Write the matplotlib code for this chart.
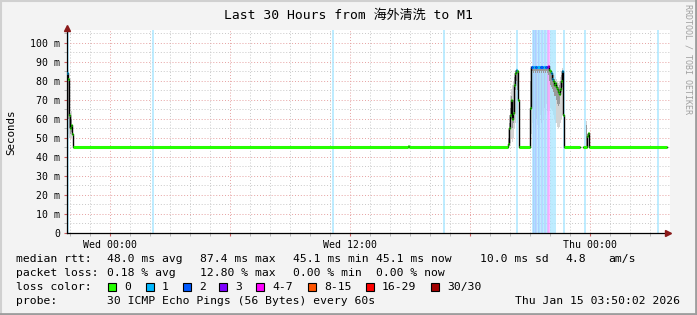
import numpy as np
import pandas as pd
import matplotlib
matplotlib.use("Agg")
import matplotlib.pyplot as plt
import matplotlib.dates as mdates
from matplotlib.lines import Line2D
from matplotlib.patches import Rectangle

nan = np.nan

# median rtt (ms) as steps: each value holds until the next time
med_time = ["13 21:50", "13 21:53", "13 21:56", "13 21:59", "13 22:02", "13 22:05", "13 22:08",
            "14 14:53", "14 14:56",
            "14 19:53", "14 19:56", "14 19:59", "14 20:02", "14 20:05", "14 20:08", "14 20:11",
            "14 20:14", "14 20:17", "14 20:20", "14 20:23", "14 20:26",
            "14 20:59", "14 21:02", "14 21:08", "14 21:14", "14 21:20", "14 21:29", "14 21:38",
            "14 21:44", "14 21:50", "14 21:53",
            "14 21:56", "14 21:59", "14 22:02", "14 22:05", "14 22:08", "14 22:11", "14 22:14",
            "14 22:17", "14 22:20", "14 22:23", "14 22:26", "14 22:29", "14 22:32", "14 22:35",
            "14 22:38", "14 22:41",
            "14 23:29", "14 23:38",
            "14 23:50", "14 23:53", "14 23:56",
            "15 03:50"]
med_val = [84, 81, 62, 55, 57, 52, 45.1,
           46, 45.1,
           47, 55, 62, 70, 60, 63, 78, 84, 86, 85, 70, 45.1,
           66, 87.2, 87.2, 87.3, 87.2, 87.3, 87.2, 87.3, 87.4, 87.6,
           86, 85, 84, 81, 80, 78, 79, 77, 76, 74, 73, 76, 80, 85, 62, 45.1,
           nan, 45.1,
           51, 52.5, 45.1,
           45.1]
med_loss = [1, 0, 0, 0, 0, 0, 0,
            0, 0,
            0, 0, 0, 0, 0, 0, 0, 0, 1, 0, 0, 0,
            0, 2, 1, 2, 1, 2, 1, 2, 3, 5,
            0, 0, 1, 1, 0, 0, 0, 0, 0, 0, 0, 0, 0, 1, 0, 0,
            0, 0,
            0, 0, 0,
            0]

# smoke (spread of the pings), steps
smoke_time = ["13 21:50", "13 21:53", "13 21:56", "13 21:59", "13 22:02", "13 22:05", "13 22:08",
              "14 00:41", "14 00:44", "14 06:50", "14 06:53", "14 09:23", "14 09:26",
              "14 14:53", "14 14:56", "14 15:08", "14 15:11",
              "14 19:53", "14 19:56", "14 19:59", "14 20:02", "14 20:05", "14 20:08", "14 20:11",
              "14 20:14", "14 20:17", "14 20:20", "14 20:23", "14 20:26",
              "14 20:59", "14 21:02", "14 21:05", "14 21:08", "14 21:11", "14 21:14", "14 21:17",
              "14 21:20", "14 21:23", "14 21:26", "14 21:29", "14 21:32", "14 21:35", "14 21:38",
              "14 21:41", "14 21:44", "14 21:47", "14 21:50", "14 21:53", "14 21:56", "14 21:59",
              "14 22:02", "14 22:05", "14 22:08", "14 22:11", "14 22:14", "14 22:17", "14 22:20",
              "14 22:23", "14 22:26", "14 22:29", "14 22:32", "14 22:35", "14 22:38", "14 22:41",
              "14 23:11", "14 23:14", "14 23:29", "14 23:38", "14 23:47", "14 23:50", "14 23:53",
              "14 23:56"]
smoke_lo = [55, 52, 50, 50, 50, 48, nan,
            45, nan, 45, nan, 45, nan,
            45, nan, 45, nan,
            45, 46, 48, 50, 48, 50, 55, 58, 62, 58, 46, nan,
            46, 52, 58, 55, 62, 54, 60, 57, 64, 55, 62, 58, 64, 60, 66, 62, 68, 64, 62, 64, 66,
            65, 64, 62, 60, 58, 58, 56, 55, 56, 58, 60, 62, 46, nan,
            45, nan, 44.5, nan, 45, 45, 46, nan]
smoke_hi = [87, 86, 80, 62, 64, 60, nan,
            47, nan, 47, nan, 48, nan,
            58, nan, 50, nan,
            55, 62, 72, 76, 78, 80, 84, 86, 87, 86, 85, nan,
            87, 88, 88, 88, 88, 88, 88, 88, 88, 88, 88, 88, 88, 88, 88, 88, 88, 88, 89, 88, 87,
            86, 85, 84, 83, 82, 81, 80, 79, 80, 82, 85, 87, 86, nan,
            48, nan, 46, nan, 59, 52, 53, nan]
core_lo = [78, 60, 55, 52, 53, 50, nan,
           nan, nan, nan, nan, nan, nan,
           46, nan, nan, nan,
           46, 50, 55, 60, 55, 58, 68, 75, 80, 75, 55, nan,
           55, 84, 85, 84, 85, 84, 85, 84, 85, 84, 85, 84, 85, 84, 85, 84, 85, 84, 83, 80, 78,
           77, 76, 74, 72, 72, 70, 68, 67, 68, 72, 74, 77, 50, nan,
           nan, nan, 44.5, nan, 46, 46, 47, nan]
core_hi = [86, 84, 70, 58, 60, 56, nan,
           nan, nan, nan, nan, nan, nan,
           56, nan, nan, nan,
           50, 58, 66, 72, 66, 70, 82, 85, 86, 85, 78, nan,
           80, 87.5, 87.5, 87.5, 87.5, 87.5, 87.5, 87.5, 87.5, 87.5, 87.5, 87.5, 87.5, 87.5,
           87.5, 87.5, 87.5, 88, 88, 87, 86,
           85, 84, 83, 81, 80, 79, 78, 77, 78, 80, 83, 86, 70, nan,
           nan, nan, 46, nan, 57, 52, 53, nan]

# packet loss markers (vertical bars)
lossbar_time = ["13 21:50", "14 02:06", "14 11:05", "14 16:38", "14 20:18",
                "14 21:05", "14 21:08", "14 21:11", "14 21:14", "14 21:20", "14 21:23", "14 21:26",
                "14 21:32", "14 21:35", "14 21:41", "14 21:44", "14 21:50", "14 21:53", "14 21:59",
                "14 22:05", "14 22:11", "14 22:38", "14 23:41", "15 03:20"]
lossbar_n = [1, 1, 1, 1, 1,
             1, 2, 1, 2, 1, 2, 1, 2, 1, 2, 1, 3, 5, 1, 1, 1, 1, 1, 1]

loss_labels = ["0", "1", "2", "3", "4-7", "8-15", "16-29", "30/30"]
loss_colors = ["#26ff00", "#00b8ff", "#0059ff", "#7e00ff", "#ff00ff", "#ff5500", "#ff0000", "#a10000"]


def loss_idx(n):
    for i, top in enumerate([0, 1, 2, 3, 7, 15, 29, 30]):
        if n <= top:
            return i
    return 7


def pale(c, a=0.35):
    r, g, b = matplotlib.colors.to_rgb(c)
    return (1 - a + a * r, 1 - a + a * g, 1 - a + a * b)


def to_dt(lst):
    return pd.to_datetime(["2026-01-" + s for s in lst])


mono = "DejaVu Sans Mono"
fig = plt.figure(figsize=(6.97, 3.15), dpi=100, facecolor="#f3f3f3")
W, H = 697, 315
ax = fig.add_axes([67 / W, 1 - 233 / H, 603 / W, 203 / H])
ax.set_facecolor("white")

t0 = pd.Timestamp("2026-01-13 21:50")
ax.set_xlim(t0, pd.Timestamp("2026-01-15 03:59"))
ax.set_ylim(0, 106.8)

# grid
ax.xaxis.set_major_locator(mdates.HourLocator(byhour=[0, 6, 12, 18]))
ax.xaxis.set_minor_locator(mdates.HourLocator())
ax.yaxis.set_major_locator(plt.MultipleLocator(10))
ax.yaxis.set_minor_locator(plt.MultipleLocator(5))
ax.grid(which="minor", color="#c8c8c8", ls=(0, (1, 2)), lw=0.7)
ax.grid(which="major", color="#e6a0a0", ls=(0, (1, 2)), lw=0.7)
ax.set_axisbelow(True)


def xfmt(x, pos):
    d = mdates.num2date(x)
    return d.strftime("%a %H:%M") if d.hour in (0, 12) else ""


ax.xaxis.set_major_formatter(plt.FuncFormatter(xfmt))
ax.yaxis.set_major_formatter(plt.FuncFormatter(lambda v, p: "0" if v == 0 else f"{v:.0f} m"))
ax.tick_params(which="major", length=2, color="#d06060", labelsize=7.1, pad=3)
ax.tick_params(which="minor", length=2, color="#b0b0b0")
for lab in ax.get_xticklabels() + ax.get_yticklabels():
    lab.set_family(mono)
for s in ["top", "right"]:
    ax.spines[s].set_visible(False)
ax.spines["left"].set_color("black")
ax.spines["bottom"].set_color("black")
ax.spines["left"].set_linewidth(0.9)
ax.spines["bottom"].set_linewidth(0.9)

# smoke (light part), then loss bars, then dense smoke
st = to_dt(smoke_time)
ax.fill_between(st, smoke_lo, smoke_hi, step="post", color="#d4d4d4", lw=0, zorder=1)
for t, n in zip(to_dt(lossbar_time), lossbar_n):
    ax.axvline(t + pd.Timedelta(minutes=1.5), color=pale(loss_colors[loss_idx(n)]), lw=1.3,
               alpha=0.8, zorder=2)
ax.fill_between(st, core_lo, core_hi, step="post", color="#9a9a9a", lw=0, zorder=2.5)

# median
mt = to_dt(med_time)
mv = np.array(med_val, dtype=float)
ax.plot(mt, mv, drawstyle="steps-post", color="black", lw=1.0, zorder=3)
for i in range(len(mt) - 1):
    if np.isnan(mv[i]):
        continue
    ax.hlines(mv[i], mt[i], mt[i + 1], color=loss_colors[loss_idx(med_loss[i])], lw=2.2, zorder=4)

# axis arrows
ax.plot([0], [1.01], marker="^", ms=5, color="#8b1a1a", transform=ax.transAxes, clip_on=False, zorder=6)
ax.plot([0.996], [0], marker=">", ms=5, color="#8b1a1a", transform=ax.transAxes, clip_on=False, zorder=6)

# texts
fig.text(348 / W, 1 - 15 / H, "Last 30 Hours from 海外清洗 to M1", ha="center", va="center",
         fontsize=9.4, family=[mono, "Noto Sans CJK SC"])
fig.text(11 / W, 1 - 132 / H, "Seconds", rotation=90, ha="center", va="center", fontsize=7.8, family=mono)
fig.text(688 / W, 1 - 59 / H, "RRDTOOL / TOBI OETIKER", rotation=270, ha="center", va="center",
         fontsize=6.0, family=mono, color="#a0a0a0")

fs = 8.2
rows = [
    (259, [(16, "median rtt:"), (107, "48.0 ms avg"), (200, "87.4 ms max"), (293, "45.1 ms min"),
           (376, "45.1 ms now"), (480, "10.0 ms sd"), (565, "4.8"), (608, "am/s")]),
    (273, [(16, "packet loss:"), (107, "0.18 % avg"), (200, "12.80 % max"), (293, "0.00 % min"),
           (376, "0.00 % now")]),
    (287, [(16, "loss color:")]),
    (301, [(16, "probe:"), (107, "30 ICMP Echo Pings (56 Bytes) every 60s")]),
]
for y, items in rows:
    for x, s in items:
        fig.text(x / W, 1 - y / H, s, ha="left", va="center", fontsize=fs, family=mono)
fig.text(680 / W, 1 - 301 / H, "Thu Jan 15 03:50:02 2026", ha="right", va="center", fontsize=fs, family=mono)

box_x = [108, 146, 183, 219, 256, 308, 366, 431]
for bx, lab, col in zip(box_x, loss_labels, loss_colors):
    fig.patches.append(Rectangle((bx / W, 1 - 291 / H), 8 / W, 8 / H, transform=fig.transFigure,
                                 facecolor=col, edgecolor="black", lw=0.8))
    fig.text((bx + 16) / W, 1 - 287 / H, lab, ha="left", va="center", fontsize=fs, family=mono)

# frame shading
fig.add_artist(Line2D([0, 1], [1 - 0.5 / H] * 2, color="#d0d0d0", lw=1.5, transform=fig.transFigure))
fig.add_artist(Line2D([0.5 / W] * 2, [0, 1], color="#d0d0d0", lw=1.5, transform=fig.transFigure))
fig.add_artist(Line2D([1 - 1 / W] * 2, [0, 1], color="#9d9d9d", lw=2, transform=fig.transFigure))
fig.add_artist(Line2D([0, 1], [1 / H] * 2, color="#9d9d9d", lw=2, transform=fig.transFigure))

fig.savefig("out.png", dpi=100, facecolor=fig.get_facecolor())
